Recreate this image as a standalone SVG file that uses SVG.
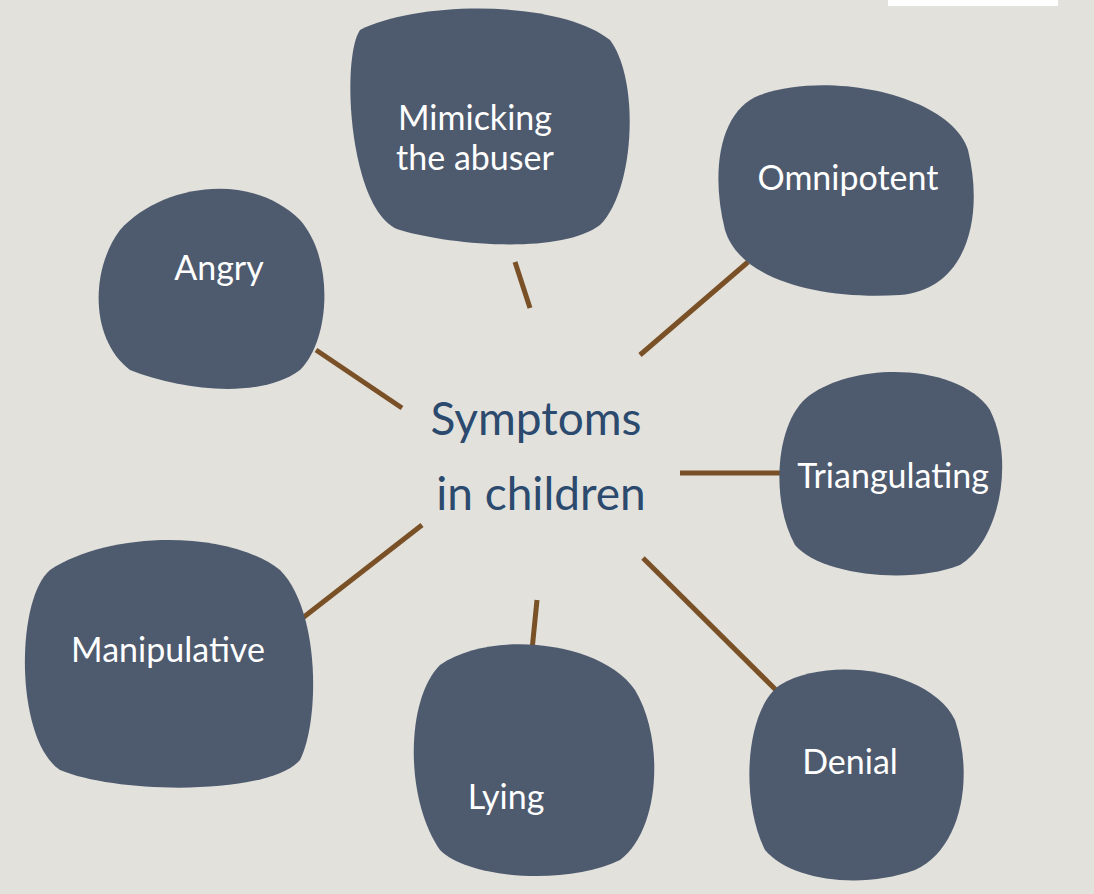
<svg xmlns="http://www.w3.org/2000/svg" width="1094" height="894" viewBox="0 0 1094 894">
<style>
.b{fill:#4e5a6e}
.t{fill:#fff;font-family:Lato,"Open Sans",sans-serif;font-size:34px;text-anchor:middle}
.c{fill:#2b4a6e;font-family:Lato,"Open Sans",sans-serif;font-size:46px;text-anchor:middle}
.l{stroke:#7a5026;stroke-width:5;fill:none}
</style>
<rect width="1094" height="894" fill="#e2e1dc"/>
<rect x="888" y="0" width="170" height="6" fill="#fff"/>
<g id="connectors">
<line class="l" x1="515" y1="262" x2="530" y2="308"/>
<line class="l" x1="640" y1="355" x2="748" y2="262"/>
<line class="l" x1="316" y1="350" x2="402" y2="408"/>
<line class="l" x1="680" y1="473" x2="785" y2="473"/>
<line class="l" x1="422" y1="525" x2="300" y2="620"/>
<line class="l" x1="537" y1="600" x2="532" y2="650"/>
<line class="l" x1="643" y1="558" x2="778" y2="692"/>
</g>
<g id="center"><text class="c" x="536" y="435">Symptoms</text><text class="c" x="541" y="510">in children</text></g>
<g id="mimicking"><path class="b" d="M360,30 C420,0 560,0 610,40 C640,80 635,190 600,225 C560,255 450,245 400,230 C350,215 340,60 360,30Z"/><text class="t" x="475" y="130">Mimicking</text><text class="t" x="475" y="170">the abuser</text></g>
<g id="omnipotent"><path class="b" d="M760,95 C830,70 950,95 968,150 C985,220 965,290 900,295 C820,300 740,280 725,230 C710,170 720,110 760,95Z"/><text class="t" x="848" y="190">Omnipotent</text></g>
<g id="angry"><path class="b" d="M120,230 C160,185 250,170 300,220 C335,260 330,340 300,370 C260,400 180,390 130,370 C90,340 90,270 120,230Z"/><text class="t" x="219" y="280">Angry</text></g>
<g id="triangulating"><path class="b" d="M810,395 C860,360 960,365 990,410 C1015,460 1000,540 960,565 C910,585 820,575 795,545 C770,500 775,420 810,395Z"/><text class="t" x="893" y="488">Triangulating</text></g>
<g id="manipulative"><path class="b" d="M50,570 C110,530 230,530 280,570 C320,610 320,720 300,760 C270,795 120,795 60,770 C15,740 15,600 50,570Z"/><text class="t" x="168" y="662">Manipulative</text></g>
<g id="lying"><path class="b" d="M440,665 C490,630 600,640 635,690 C665,740 660,830 620,860 C570,885 470,880 440,850 C405,800 405,700 440,665Z"/><text class="t" x="506" y="809">Lying</text></g>
<g id="denial"><path class="b" d="M780,685 C830,655 930,670 955,720 C975,780 960,850 915,870 C860,890 790,880 765,850 C740,800 745,710 780,685Z"/><text class="t" x="850" y="774">Denial</text></g>
</svg>
